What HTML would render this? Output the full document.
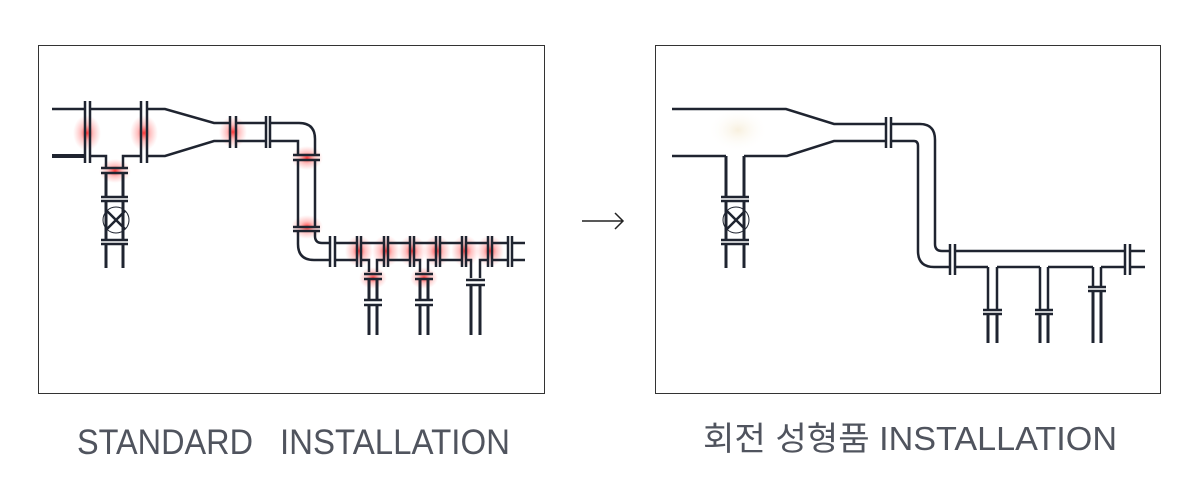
<!DOCTYPE html>
<html><head><meta charset="utf-8"><style>
html,body{margin:0;padding:0;background:#fff;}
svg{display:block}
</style></head><body>
<svg width="1200" height="500" viewBox="0 0 1200 500" xmlns="http://www.w3.org/2000/svg">
<defs>
<radialGradient id="g"><stop offset="0" stop-color="#ff2a2a" stop-opacity="0.95"/><stop offset="0.45" stop-color="#ff6060" stop-opacity="0.4"/><stop offset="1" stop-color="#ff8080" stop-opacity="0"/></radialGradient>
<radialGradient id="y"><stop offset="0" stop-color="#f3e6c8" stop-opacity="0.6"/><stop offset="1" stop-color="#fff" stop-opacity="0"/></radialGradient>
</defs>
<rect x="38.5" y="45.5" width="506" height="348" fill="none" stroke="#333" stroke-width="1"/>
<rect x="655.5" y="45.5" width="505" height="348" fill="none" stroke="#333" stroke-width="1"/>

<g fill="url(#g)">
<ellipse cx="87" cy="133" rx="14" ry="18"/>
<ellipse cx="144" cy="133" rx="14" ry="18"/>
<ellipse cx="115" cy="171" rx="16" ry="12"/>
<ellipse cx="233" cy="132" rx="14" ry="16"/>
<ellipse cx="307" cy="158" rx="16" ry="12"/>
<ellipse cx="307" cy="227" rx="16" ry="12"/>
<ellipse cx="359" cy="251" rx="14" ry="16"/>
<ellipse cx="386" cy="251" rx="14" ry="16"/>
<ellipse cx="412" cy="251" rx="14" ry="16"/>
<ellipse cx="437" cy="251" rx="14" ry="16"/>
<ellipse cx="465" cy="251" rx="14" ry="16"/>
<ellipse cx="490" cy="251" rx="14" ry="16"/>
<ellipse cx="373" cy="278" rx="14" ry="11"/>
<ellipse cx="424" cy="278" rx="14" ry="11"/>
</g>
<ellipse cx="738" cy="130" rx="30" ry="22" fill="url(#y)"/>

<g stroke="#1f2430" stroke-width="2.5" fill="none" stroke-linecap="butt">
<path d="M52 109H85 M90 109H141 M147 109H165 L214 123 H230 M236 123H266 M270 123H299 Q315 123 315 139 V155 M315 160 V227 M315 231 V236 Q315 243 322 243 H330"/>
<path d="M52 156H85" stroke-width="4"/>
<path d="M90 156H106 V168 M123 168 V156 H141 M147 156 H165 L214 141 H230 M236 141H266 M270 141H298 V155 M298 160 V227 M298 231 V244 Q298 260 314 260 H330"/>
<path d="M85 101V163 M90 101V163 M141 101V163 M147 101V163 M230 116V148 M236 116V148 M266 116V148 M270 116V148"/>
<path d="M293 155H320 M293 160H320 M293 227H320 M293 231H320"/>
<path d="M101 168H128 M101 173H128 M101 197H128 M101 201H128 M101 240H128 M101 244H128"/>
<path d="M106 173V197 M123 173V197 M106 201V240 M123 201V240 M106 244V268 M123 244V268" stroke-width="3"/>
<circle cx="116" cy="220" r="13" stroke-width="1"/>
<path d="M107 211L125 229 M125 211L107 229"/>
<path d="M330 236V267 M335 236V267 M357 236V267 M361 236V267 M384 236V267 M388 236V267 M410 236V267 M414 236V267 M436 236V267 M440 236V267 M462 236V267 M466 236V267 M488 236V267 M492 236V267 M508 236V267 M512 236V267"/>
<path d="M335 243H357 M361 243H384 M388 243H410 M414 243H436 M440 243H462 M466 243H488 M492 243H508 M512 243H525"/>
<path d="M335 260H357 M361 260H369 V272 M377 272 V260 H384 M388 260H410 M414 260H420 V272 M428 272 V260 H436 M440 260H462 M466 260H471 V278 M480 278 V260 H488 M492 260H508 M512 260H525"/>
<path d="M364 274H382 M364 279H382 M364 300H382 M364 305H382 M415 274H433 M415 279H433 M415 300H433 M415 305H433 M466 280H485 M466 285H485"/>
<path d="M369 279V300 M377 279V300 M369 305V335 M377 305V335 M420 279V300 M428 279V300 M420 305V335 M428 305V335 M471 285V335 M480 285V335" stroke-width="3"/>

<path d="M672 109H786 L834 124 H886 M891 124H920 Q935 124 935 140 V244 Q935 251 942 251 H950 M955 251H1125 M1130 251H1145"/>
<path d="M672 156H726 M744 156H787 L834 141 H886 M891 141H914 Q918 141 918 146 V251 Q918 267 934 267 H950 M955 267H988 M997 267H1040 M1048 267H1093 M1101 267H1125 M1130 267H1145"/>
<path d="M886 117V148 M891 117V148 M950 244V275 M955 244V275 M1125 244V275 M1130 244V275"/>
<path d="M726 156V197 M744 156V197 M726 201V240 M744 201V240 M726 244V268 M744 244V268" stroke-width="3"/>
<path d="M721 197H749 M721 201H749 M721 240H749 M721 244H749"/>
<circle cx="736" cy="220" r="13" stroke-width="1"/>
<path d="M727 211L745 229 M745 211L727 229"/>
<path d="M988 267V310 M997 267V310 M1040 267V310 M1048 267V310 M1093 267V287 M1101 267V287"/>
<path d="M983 310H1002 M983 314H1002 M1035 310H1053 M1035 314H1053 M1088 287H1106 M1088 291H1106"/>
<path d="M988 314V343 M997 314V343 M1040 314V343 M1048 314V343 M1093 291V343 M1101 291V343" stroke-width="3"/>
</g>

<path d="M582 221H623 M615 213L623 221L615 229" stroke="#222" stroke-width="1.5" fill="none"/>

<g font-family="Liberation Sans, 'Noto Sans CJK KR', sans-serif" fill="#50545e" font-size="35">
<text x="77" y="454" textLength="176" lengthAdjust="spacingAndGlyphs">STANDARD</text>
<text x="280" y="454" textLength="230" lengthAdjust="spacingAndGlyphs">INSTALLATION</text>
<text x="703" y="450" font-size="33" textLength="414" lengthAdjust="spacingAndGlyphs">회전 성형품 INSTALLATION</text>
</g>
</svg>
</body></html>
